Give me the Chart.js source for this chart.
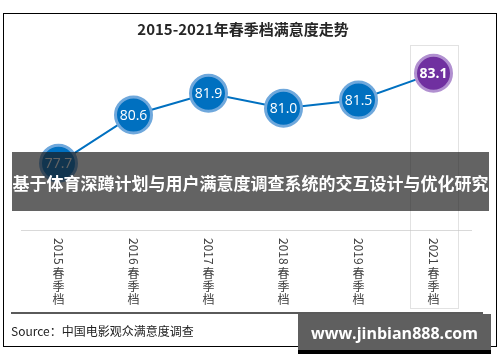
<!DOCTYPE html>
<html>
<head>
<meta charset="utf-8">
<script src="https://cdn.jsdelivr.net/npm/chart.js@4/dist/chart.umd.min.js"></script>
<style>
body { margin: 0; background: #fff; }
#container { position: relative; width: 500px; height: 362px; overflow: hidden; background: #fff; }
#frame { position: absolute; left: 3px; top: 13px; width: 494px; height: 334px; box-sizing: border-box; border: 1px solid #000; pointer-events: none; }
#banner { position: absolute; left: 12px; top: 152px; width: 477px; height: 59px; background: rgba(25,25,25,0.68); color: #fff; font: bold 17px "Noto Sans CJK SC", sans-serif; line-height: 62px; text-align: center; white-space: nowrap; overflow: hidden; }
#rule { position: absolute; left: 11px; top: 312px; width: 472px; height: 2px; background: #5a5a5a; }
#source { position: absolute; left: 11px; top: 322px; font: 12px "Noto Sans CJK SC", sans-serif; color: #222; white-space: nowrap; }
#mark { position: absolute; left: 298px; top: 314px; width: 193px; height: 36px; background: #5f5f5f; border-bottom: 4px solid #000; color: #fff; font: bold 16px "Open Sans", sans-serif; line-height: 38px; text-align: center; white-space: nowrap; }
</style>
</head>
<body>
<div id="container"></div>
<script>
// data
var categories = ['2015春季档', '2016春季档', '2017春季档', '2018春季档', '2019春季档', '2021春季档'];
var satisfaction = [77.7, 80.6, 81.9, 81.0, 81.5, 83.1];
var chartTitle = '2015-2021年春季档满意度走势';
var sourceText = 'Source：中国电影观众满意度调查';
var bannerText = '基于体育深蹲计划与用户满意度调查系统的交互设计与优化研究';
var markText = 'www.jinbian888.com';

var cbox = document.getElementById('container');
var chartCanvas = document.createElement('canvas');
chartCanvas.id = 'chartcanvas';
chartCanvas.width = 500;
chartCanvas.height = 362;
cbox.appendChild(chartCanvas);

function addDiv(id, text) {
    var d = document.createElement('div');
    d.id = id;
    if (text) d.textContent = text;
    cbox.appendChild(d);
}
addDiv('frame');
addDiv('rule');
addDiv('source', sourceText);
addDiv('mark', markText);
addDiv('banner', bannerText);

var lastIdx = categories.length - 1;
var fills = categories.map(function (c, i) { return i === lastIdx ? '#7030a0' : '#0070c0'; });
var halos = categories.map(function (c, i) { return i === lastIdx ? '#b190d0' : '#6fa8dc'; });

// vertical labels: digits turned, characters upright
var xLabels = {
    id: 'xLabels',
    afterDraw: function (chart) {
        var c = chart.ctx;
        var xs = chart.scales.x;
        c.save();
        c.fillStyle = '#404040';
        c.font = '12px "Noto Sans CJK SC"';
        categories.forEach(function (lab, i) {
            var x = xs.getPixelForTick(i);
            var yr = lab.slice(0, 4);
            var rest = lab.slice(4);
            c.save();
            c.translate(x, 238);
            c.rotate(Math.PI / 2);
            c.textAlign = 'left';
            c.textBaseline = 'middle';
            c.fillText(yr, 0, 0);
            c.restore();
            c.textAlign = 'center';
            c.textBaseline = 'middle';
            for (var k = 0; k < rest.length; k++) {
                c.fillText(rest[k], x, 273 + 13 * k);
            }
        });
        c.restore();
    }
};

// dotted box round the last column
var lastBox = {
    id: 'lastBox',
    beforeDatasetsDraw: function (chart) {
        var c = chart.ctx;
        var x = chart.scales.x.getPixelForTick(lastIdx);
        c.save();
        c.strokeStyle = '#c4c4c4';
        c.lineWidth = 1;
        c.setLineDash([1, 1]);
        c.strokeRect(Math.round(x - 24) + 0.5, chart.chartArea.top + 0.5, 48, 308 - chart.chartArea.top);
        c.restore();
    }
};

// values inside the circles
var valueLabels = {
    id: 'valueLabels',
    afterDatasetsDraw: function (chart) {
        var c = chart.ctx;
        var meta = chart.getDatasetMeta(0);
        c.save();
        c.fillStyle = '#fff';
        c.textAlign = 'center';
        c.textBaseline = 'middle';
        meta.data.forEach(function (pt, i) {
            c.font = (i === lastIdx ? 'bold ' : '') + '14px "Open Sans"';
            c.fillText(satisfaction[i].toFixed(1), pt.x, pt.y + 1);
        });
        c.restore();
    }
};

var myChart = new Chart(chartCanvas, {
    type: 'line',
    data: {
        labels: categories,
        datasets: [{
            data: satisfaction,
            borderColor: '#0070c0',
            borderWidth: 2,
            pointRadius: 18,
            pointBorderWidth: 3,
            pointBackgroundColor: fills,
            pointBorderColor: halos,
            tension: 0
        }]
    },
    options: {
        responsive: false,
        animation: false,
        layout: { padding: { top: 13, left: 15, right: 29, bottom: 124 } },
        plugins: {
            legend: { display: false },
            tooltip: { enabled: false },
            title: {
                display: true,
                text: chartTitle,
                color: '#262626',
                font: { family: '"Noto Sans CJK SC"', size: 15, weight: 'bold' },
                padding: { top: 7, bottom: 7 }
            }
        },
        scales: {
            x: {
                offset: true,
                grid: { display: false },
                border: { display: true, color: '#d9d9d9', width: 1 },
                ticks: { display: false }
            },
            y: {
                display: false,
                min: 73.7,
                max: 84.8
            }
        }
    },
    plugins: [lastBox, valueLabels, xLabels]
});
</script>
</body>
</html>
